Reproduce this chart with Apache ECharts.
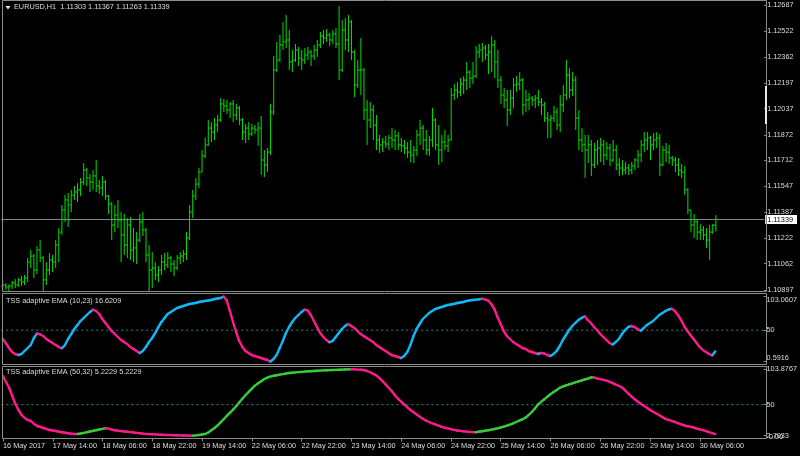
<!DOCTYPE html>
<html><head><meta charset="utf-8">
<script src="https://cdn.jsdelivr.net/npm/echarts/dist/echarts.min.js"></script>
<style>html,body{margin:0;padding:0;background:#000;}#c{width:800px;height:456px;}</style>
</head><body><div id="c"></div>
<script>
const barOpen = [1.10921,1.10927,1.10915,1.10921,1.10940,1.10927,1.10959,1.10946,1.10971,1.11071,1.11109,1.11021,1.11147,1.11097,1.10959,1.11021,1.11084,1.11071,1.11179,1.11260,1.11399,1.11462,1.11430,1.11493,1.11512,1.11525,1.11574,1.11650,1.11600,1.11574,1.11613,1.11550,1.11537,1.11574,1.11487,1.11437,1.11304,1.11367,1.11336,1.11242,1.11179,1.11304,1.11147,1.11160,1.11210,1.11323,1.11273,1.11116,1.11021,1.11034,1.10990,1.11021,1.11071,1.11053,1.11097,1.11059,1.11034,1.11097,1.11109,1.11122,1.11223,1.11386,1.11487,1.11562,1.11637,1.11739,1.11808,1.11914,1.11889,1.11933,1.11965,1.12066,1.12053,1.12028,1.12066,1.11996,1.12040,1.11965,1.11889,1.11914,1.11877,1.11914,1.11902,1.11914,1.11713,1.11682,1.11763,1.12015,1.12279,1.12342,1.12437,1.12456,1.12468,1.12330,1.12342,1.12405,1.12355,1.12342,1.12374,1.12392,1.12367,1.12405,1.12437,1.12493,1.12481,1.12500,1.12468,1.12506,1.12443,1.12279,1.12531,1.12468,1.12581,1.12392,1.12185,1.12279,1.12279,1.12028,1.11965,1.12028,1.11933,1.11839,1.11808,1.11826,1.11814,1.11852,1.11839,1.11865,1.11808,1.11802,1.11789,1.11763,1.11745,1.11776,1.11871,1.11914,1.11839,1.11776,1.11839,1.11965,1.11808,1.11776,1.11826,1.11802,1.11839,1.12122,1.12154,1.12141,1.12191,1.12216,1.12266,1.12229,1.12241,1.12392,1.12405,1.12418,1.12374,1.12392,1.12437,1.12330,1.12216,1.12122,1.12091,1.12028,1.12103,1.12185,1.12191,1.12216,1.12059,1.12091,1.12103,1.12091,1.12103,1.12078,1.12059,1.11977,1.11965,1.11977,1.12015,1.11933,1.12059,1.12122,1.12248,1.12154,1.12216,1.11977,1.11839,1.11808,1.11776,1.11808,1.11682,1.11776,1.11789,1.11808,1.11745,1.11789,1.11713,1.11776,1.11682,1.11663,1.11650,1.11663,1.11650,1.11676,1.11713,1.11745,1.11808,1.11839,1.11852,1.11808,1.11839,1.11852,1.11682,1.11776,1.11763,1.11726,1.11713,1.11682,1.11650,1.11637,1.11525,1.11399,1.11304,1.11323,1.11260,1.11273,1.11242,1.11210,1.11260,1.11303];
const barHigh = [1.10959,1.10940,1.10933,1.10952,1.10965,1.10971,1.10983,1.10990,1.11097,1.11147,1.11122,1.11172,1.11210,1.11109,1.11071,1.11128,1.11116,1.11210,1.11285,1.11430,1.11493,1.11506,1.11525,1.11550,1.11568,1.11600,1.11694,1.11663,1.11625,1.11650,1.11713,1.11587,1.11613,1.11587,1.11493,1.11449,1.11430,1.11462,1.11386,1.11374,1.11348,1.11354,1.11285,1.11260,1.11374,1.11386,1.11285,1.11179,1.11134,1.11071,1.11046,1.11116,1.11128,1.11134,1.11109,1.11084,1.11116,1.11134,1.11147,1.11260,1.11430,1.11525,1.11600,1.11663,1.11776,1.11852,1.11965,1.11952,1.11977,1.11996,1.12103,1.12097,1.12091,1.12078,1.12091,1.12066,1.12053,1.11977,1.11940,1.11952,1.11940,1.11933,1.11952,1.11990,1.11776,1.11789,1.12066,1.12367,1.12456,1.12500,1.12581,1.12625,1.12531,1.12405,1.12443,1.12424,1.12405,1.12418,1.12424,1.12405,1.12437,1.12468,1.12518,1.12531,1.12537,1.12512,1.12531,1.12543,1.12682,1.12594,1.12606,1.12625,1.12594,1.12405,1.12342,1.12481,1.12292,1.12091,1.12078,1.12059,1.11996,1.11871,1.11852,1.11865,1.11871,1.11914,1.11902,1.11889,1.11852,1.11839,1.11826,1.11839,1.11802,1.11902,1.11965,1.11933,1.11902,1.11865,1.12040,1.11977,1.11933,1.11871,1.11902,1.11871,1.12166,1.12191,1.12204,1.12229,1.12241,1.12330,1.12279,1.12330,1.12430,1.12443,1.12449,1.12437,1.12443,1.12493,1.12468,1.12405,1.12241,1.12166,1.12154,1.12154,1.12229,1.12241,1.12266,1.12229,1.12154,1.12135,1.12116,1.12122,1.12154,1.12103,1.12078,1.12015,1.11996,1.12053,1.12040,1.12122,1.12185,1.12342,1.12292,1.12266,1.12241,1.12028,1.11914,1.11871,1.11871,1.11839,1.11820,1.11839,1.11852,1.11839,1.11826,1.11814,1.11839,1.11808,1.11726,1.11713,1.11700,1.11688,1.11700,1.11726,1.11776,1.11839,1.11889,1.11889,1.11865,1.11883,1.11889,1.11877,1.11802,1.11820,1.11808,1.11739,1.11732,1.11726,1.11688,1.11676,1.11537,1.11399,1.11374,1.11336,1.11311,1.11298,1.11285,1.11304,1.11311,1.11367];
const barLow = [1.10889,1.10896,1.10889,1.10902,1.10908,1.10915,1.10921,1.10927,1.10946,1.11034,1.10971,1.10996,1.11071,1.10883,1.10927,1.10990,1.11008,1.11034,1.11071,1.11242,1.11323,1.11292,1.11386,1.11462,1.11449,1.11487,1.11556,1.11550,1.11512,1.11525,1.11512,1.11500,1.11487,1.11462,1.11374,1.11210,1.11260,1.11285,1.11071,1.11116,1.11097,1.11084,1.11071,1.11059,1.11197,1.11235,1.11071,1.10883,1.10908,1.10959,1.10946,1.10990,1.11021,1.11034,1.11008,1.10983,1.11021,1.11059,1.11071,1.11084,1.11210,1.11348,1.11462,1.11537,1.11637,1.11726,1.11802,1.11826,1.11839,1.11889,1.11952,1.12015,1.12003,1.11977,1.11952,1.11965,1.11933,1.11839,1.11820,1.11839,1.11865,1.11877,1.11802,1.11619,1.11606,1.11637,1.11745,1.11996,1.12266,1.12330,1.12405,1.12418,1.12279,1.12266,1.12330,1.12304,1.12279,1.12317,1.12342,1.12304,1.12342,1.12361,1.12418,1.12443,1.12456,1.12430,1.12443,1.12418,1.12216,1.12266,1.12405,1.12392,1.12342,1.12109,1.12166,1.12122,1.11965,1.11808,1.11914,1.11839,1.11776,1.11757,1.11763,1.11789,1.11776,1.11789,1.11776,1.11776,1.11763,1.11751,1.11726,1.11700,1.11694,1.11739,1.11808,1.11776,1.11745,1.11739,1.11795,1.11776,1.11682,1.11700,1.11776,1.11763,1.11839,1.12091,1.12103,1.12116,1.12128,1.12154,1.12166,1.12191,1.12229,1.12355,1.12330,1.12342,1.12254,1.12266,1.12229,1.12166,1.12066,1.12040,1.11927,1.11996,1.12040,1.12141,1.12154,1.11996,1.12015,1.12028,1.12053,1.12040,1.12053,1.11996,1.11952,1.11852,1.11852,1.11952,1.11902,1.11889,1.12015,1.12091,1.12103,1.12116,1.11902,1.11776,1.11763,1.11600,1.11694,1.11613,1.11663,1.11682,1.11700,1.11682,1.11713,1.11676,1.11700,1.11650,1.11613,1.11619,1.11625,1.11619,1.11625,1.11650,1.11663,1.11700,1.11763,1.11776,1.11713,1.11776,1.11789,1.11613,1.11676,1.11700,1.11688,1.11676,1.11637,1.11613,1.11600,1.11493,1.11374,1.11260,1.11223,1.11210,1.11210,1.11210,1.11160,1.11084,1.11248,1.11263];
const barClose = [1.10927,1.10915,1.10921,1.10940,1.10927,1.10959,1.10946,1.10971,1.11071,1.11109,1.11021,1.11147,1.11097,1.10959,1.11021,1.11084,1.11071,1.11179,1.11260,1.11399,1.11462,1.11430,1.11493,1.11512,1.11525,1.11574,1.11650,1.11600,1.11574,1.11613,1.11550,1.11537,1.11574,1.11487,1.11437,1.11304,1.11367,1.11336,1.11242,1.11179,1.11304,1.11147,1.11160,1.11210,1.11323,1.11273,1.11116,1.11021,1.11034,1.10990,1.11021,1.11071,1.11053,1.11097,1.11059,1.11034,1.11097,1.11109,1.11122,1.11223,1.11386,1.11487,1.11562,1.11637,1.11739,1.11808,1.11914,1.11889,1.11933,1.11965,1.12066,1.12053,1.12028,1.12066,1.11996,1.12040,1.11965,1.11889,1.11914,1.11877,1.11914,1.11902,1.11914,1.11713,1.11682,1.11763,1.12015,1.12279,1.12342,1.12437,1.12456,1.12468,1.12330,1.12342,1.12405,1.12355,1.12342,1.12374,1.12392,1.12367,1.12405,1.12437,1.12493,1.12481,1.12500,1.12468,1.12506,1.12443,1.12279,1.12531,1.12468,1.12581,1.12392,1.12185,1.12279,1.12279,1.12028,1.11965,1.12028,1.11933,1.11839,1.11808,1.11826,1.11814,1.11852,1.11839,1.11865,1.11808,1.11802,1.11789,1.11763,1.11745,1.11776,1.11871,1.11914,1.11839,1.11776,1.11839,1.11965,1.11808,1.11776,1.11826,1.11802,1.11839,1.12122,1.12154,1.12141,1.12191,1.12216,1.12266,1.12229,1.12241,1.12392,1.12405,1.12418,1.12374,1.12392,1.12437,1.12330,1.12216,1.12122,1.12091,1.12028,1.12103,1.12185,1.12191,1.12216,1.12059,1.12091,1.12103,1.12091,1.12103,1.12078,1.12059,1.11977,1.11965,1.11977,1.12015,1.11933,1.12059,1.12122,1.12248,1.12154,1.12216,1.11977,1.11839,1.11808,1.11776,1.11808,1.11682,1.11776,1.11789,1.11808,1.11745,1.11789,1.11713,1.11776,1.11682,1.11663,1.11650,1.11663,1.11650,1.11676,1.11713,1.11745,1.11808,1.11839,1.11852,1.11808,1.11839,1.11852,1.11682,1.11776,1.11763,1.11726,1.11713,1.11682,1.11650,1.11637,1.11525,1.11399,1.11304,1.11323,1.11260,1.11273,1.11242,1.11210,1.11260,1.11303,1.11339];
const tssFast = [36.06,29.75,21.87,15.56,12.41,10.83,12.41,17.14,21.87,26.60,37.63,44.90,43.20,40.79,36.06,32.90,29.75,26.60,23.45,21.50,26.60,36.06,43.94,51.82,58.13,64.43,69.16,73.89,78.62,82.20,80.20,75.47,67.59,61.28,54.97,48.67,43.94,39.21,34.48,31.33,28.18,23.45,20.29,17.14,13.99,17.14,23.45,31.33,37.63,45.52,54.97,62.86,69.16,75.47,78.62,81.77,84.93,86.50,88.08,89.66,91.23,92.00,92.81,94.39,95.20,95.96,96.70,97.54,99.12,99.90,100.69,103.0607,96.70,80.20,62.86,47.09,32.90,23.45,17.14,13.99,10.83,9.26,7.68,6.11,4.53,2.95,0.5916,4.53,10.83,21.87,32.90,45.52,54.97,62.86,69.16,73.89,78.62,82.30,81.00,73.89,64.43,54.97,45.52,39.21,34.48,31.00,32.90,39.21,45.52,51.82,56.55,59.70,56.55,53.40,48.67,43.94,40.79,37.63,34.48,31.33,26.60,23.45,20.29,17.14,13.99,10.83,9.26,7.68,6.11,9.26,15.56,26.60,40.79,51.82,59.70,67.59,72.32,77.05,80.20,83.35,84.93,86.50,88.08,89.66,90.40,91.23,92.81,93.60,94.39,95.96,96.70,97.54,97.90,98.60,99.40,98.60,96.70,91.23,83.35,70.74,59.70,48.67,40.79,36.06,31.33,28.18,25.02,21.87,20.29,17.14,15.56,13.99,12.41,13.99,13.20,10.83,9.26,12.41,17.14,25.02,34.48,42.36,50.25,56.55,61.28,66.01,69.16,71.80,66.01,61.28,54.97,50.25,43.94,39.21,34.48,29.75,27.40,31.33,36.06,43.94,50.25,54.97,56.55,54.97,51.82,49.10,53.40,58.13,61.28,64.43,69.16,73.89,77.05,80.20,82.60,83.80,80.20,73.89,66.01,56.55,48.67,42.36,36.06,29.75,23.45,18.72,15.56,12.41,10.40,16.6209];
const tssSlow = [93.67,84.52,75.38,63.19,51.00,41.86,34.24,29.67,26.62,25.10,20.53,17.48,15.96,14.43,12.91,11.39,10.62,9.86,8.79,7.88,7.12,6.36,5.75,5.35,5.22,6.05,6.97,8.03,9.10,10.17,11.08,12.15,13.06,13.98,13.50,11.99,11.08,10.32,9.71,9.10,8.64,8.19,7.58,6.97,6.51,5.90,5.44,5.14,4.83,4.68,4.38,4.22,3.92,3.77,3.61,3.46,3.31,3.16,3.01,2.92,2.82,2.7033,3.16,3.77,4.53,5.29,7.58,11.08,14.43,18.55,23.27,28.15,33.18,37.75,42.62,47.96,53.75,59.39,64.72,69.59,74.47,79.04,82.54,85.74,89.10,91.08,92.90,93.97,94.89,95.80,96.56,97.48,98.24,98.70,99.15,99.61,99.92,100.37,100.83,100.98,101.29,101.59,101.89,102.20,102.50,102.66,102.81,102.96,103.20,103.38,103.55,103.72,103.8767,103.72,103.42,103.11,102.81,101.29,99.46,97.02,94.73,90.62,85.74,80.87,75.69,70.51,64.41,58.93,54.51,50.24,45.98,41.86,38.51,35.01,31.65,28.45,25.56,23.58,21.60,19.77,17.94,16.26,14.89,13.83,12.61,11.54,10.63,10.02,9.41,8.95,8.49,8.19,7.88,8.65,9.56,10.32,11.08,12.00,12.91,13.98,15.20,16.42,17.94,19.62,21.60,23.58,25.71,27.84,30.28,34.24,38.82,44.15,50.24,54.36,58.17,62.13,65.94,69.14,72.49,75.69,77.67,79.34,80.87,82.54,84.07,85.44,86.81,88.34,89.71,91.38,91.53,90.01,88.94,87.88,86.66,84.83,82.70,80.56,78.43,76.15,71.73,67.00,62.74,58.62,54.81,51.46,48.26,45.21,41.86,39.27,36.53,33.79,31.04,28.15,26.78,25.25,23.58,21.75,20.07,18.40,17.18,16.26,15.20,13.50,12.40,11.20,9.80,8.00,6.50,5.2229];
const priceTicks = [1.10897,1.11062,1.11222,1.11387,1.11547,1.11712,1.11872,1.12037,1.12197,1.12362,1.12522,1.12687];
const fastTicks = [0.5916, 50, 103.0607];
const slowTicks = [2.7033, 50, 103.8767];
const levelValues = [50];
const timeTickLabels = ['16 May 2017','17 May 14:00','18 May 06:00','18 May 22:00','19 May 14:00','22 May 06:00','22 May 22:00','23 May 14:00','24 May 06:00','24 May 22:00','25 May 14:00','26 May 06:00','26 May 22:00','29 May 14:00','30 May 06:00'];

const N = barClose.length;
const SLOTS = 245;
const MONTHS = ['Jan','Feb','Mar','Apr','May','Jun','Jul','Aug','Sep','Oct','Nov','Dec'];
const barTimes = [];
for (let t = Date.UTC(2017,4,16,22); barTimes.length < N; t += 3600000) {
  const d = new Date(t), w = d.getUTCDay();
  if (w === 0 || w === 6) continue;
  barTimes.push(d.getUTCDate() + ' ' + MONTHS[d.getUTCMonth()] + ' ' + String(d.getUTCHours()).padStart(2,'0') + ':00');
}
const cats = [];
for (let i = 0; i < SLOTS; i++) cats.push(i < N ? barTimes[i] : '');
const lastClose = barClose[N - 1];

const FONT = 'Liberation Sans';
const FS = 7.3;
const TXT = '#dcdcdc';
const FRAME = '#8c8c8c';
const BAR = '#00e000';
const BLUE = '#10b8f4';
const PINK = '#ff1a8c';
const GREEN = '#38cc38';
const LEVEL = '#1e9090';
const L = 1.2, R = 33.2;

function renderOHLC(params, api) {
  const i = api.value(0);
  const pH = api.coord([i, api.value(2)]);
  const pL = api.coord([i, api.value(3)]);
  const yO = api.coord([i, api.value(1)])[1];
  const yC = api.coord([i, api.value(4)])[1];
  const x = pH[0];
  const st = {stroke: BAR, lineWidth: 1};
  return {type: 'group', children: [
    {type: 'line', shape: {x1: x, y1: pH[1], x2: x, y2: pL[1]}, style: st},
    {type: 'line', shape: {x1: x - 1.5, y1: yO, x2: x, y2: yO}, style: st},
    {type: 'line', shape: {x1: x, y1: yC, x2: x + 1.5, y2: yC}, style: st}
  ]};
}
function segRenderer(upColor, dnColor) {
  return function (params, api) {
    const i = api.value(0);
    const a = api.coord([i - 1, api.value(1)]);
    const b = api.coord([i, api.value(2)]);
    return {type: 'line', shape: {x1: a[0], y1: a[1], x2: b[0], y2: b[1]},
      style: {stroke: api.value(2) >= api.value(1) ? upColor : dnColor, lineWidth: 2.4, lineCap: 'round'}};
  };
}
// horizontal level drawn through the axis scale across the whole panel width
function hLineRenderer(color, dash) {
  return function (params, api) {
    const cs = params.coordSys;
    const y = api.coord([0, api.value(0)])[1];
    return {type: 'line', shape: {x1: cs.x, y1: y, x2: cs.x + cs.width, y2: y},
      style: {stroke: color, lineWidth: 1, lineDash: dash || null}};
  };
}
function segData(vals) { return vals.slice(1).map((v, k) => [k + 1, vals[k], v]); }
const fmtVal = v => String(v);
const labelShow = idx => idx % 16 === 0 && idx < N;

const hiddenX = gi => ({type: 'category', gridIndex: gi, data: cats, boundaryGap: true,
  axisLine: {show: false}, axisTick: {show: false}, axisLabel: {show: false}, splitLine: {show: false}});

const option = {
  backgroundColor: '#000',
  animation: false,
  grid: [
    {left: L, right: R, top: 1, height: 291},
    {left: L, right: R, top: 296.5, height: 65},
    {left: L, right: R, top: 369.3, height: 66.4}
  ],
  xAxis: [
    hiddenX(0), hiddenX(1),
    {type: 'category', gridIndex: 2, data: cats, boundaryGap: true, offset: 2.8,
      axisLine: {show: false},
      axisTick: {show: true, alignWithLabel: true, interval: labelShow, length: 3, lineStyle: {color: FRAME}},
      axisLabel: {show: true, interval: labelShow, align: 'left', margin: 4, color: TXT, fontSize: FS, fontFamily: FONT,
        formatter: (v, idx) => timeTickLabels[idx / 16] || ''},
      splitLine: {show: false}}
  ],
  yAxis: [
    {type: 'value', gridIndex: 0, position: 'right', min: 1.10883, max: 1.127134,
      splitLine: {show: false}, axisLine: {show: false},
      axisTick: {show: true, length: 3, customValues: priceTicks, lineStyle: {color: FRAME}},
      axisLabel: {customValues: priceTicks, formatter: v => v.toFixed(5), margin: 3, color: TXT, fontSize: FS, fontFamily: FONT}},
    {type: 'value', gridIndex: 1, position: 'right', min: 0.5916, max: 103.0607,
      splitLine: {show: false}, axisLine: {show: false},
      axisTick: {show: true, length: 3, customValues: fastTicks, lineStyle: {color: FRAME}},
      axisLabel: {customValues: fastTicks, formatter: fmtVal, margin: 3, color: TXT, fontSize: FS, fontFamily: FONT,
        verticalAlignMaxLabel: 'top', verticalAlignMinLabel: 'bottom'}},
    {type: 'value', gridIndex: 2, position: 'right', min: 2.7033, max: 103.8767,
      splitLine: {show: false}, axisLine: {show: false},
      axisTick: {show: true, length: 3, customValues: slowTicks, lineStyle: {color: FRAME}},
      axisLabel: {customValues: slowTicks, formatter: fmtVal, margin: 3, color: TXT, fontSize: FS, fontFamily: FONT}},
    // overlay axis on the price panel that only carries the current-price box
    {type: 'value', gridIndex: 0, position: 'right', min: 1.10883, max: 1.127134,
      splitLine: {show: false}, axisLine: {show: false}, axisTick: {show: false},
      axisLabel: {customValues: [lastClose], formatter: v => v.toFixed(5), margin: 1, color: '#000',
        backgroundColor: '#ffffff', padding: [1, 4, 1, 2], fontSize: FS, fontFamily: FONT}}
  ],
  series: [
    {type: 'custom', name: 'price line', xAxisIndex: 0, yAxisIndex: 0, silent: true,
      data: [[lastClose]], encode: {y: 0}, renderItem: hLineRenderer('#7b8694'), z: 2},
    {type: 'custom', name: 'EURUSD,H1', xAxisIndex: 0, yAxisIndex: 0,
      data: barClose.map((c, i) => [i, barOpen[i], barHigh[i], barLow[i], c]),
      encode: {x: 0, y: [1, 2, 3, 4]}, renderItem: renderOHLC, z: 3},
    {type: 'custom', name: 'level 50 fast', xAxisIndex: 1, yAxisIndex: 1, silent: true,
      data: levelValues.map(v => [v]), encode: {y: 0}, renderItem: hLineRenderer(LEVEL, [2, 3]), z: 2},
    {type: 'custom', name: 'TSS adaptive EMA (10,23)', xAxisIndex: 1, yAxisIndex: 1,
      data: segData(tssFast), encode: {x: 0, y: [1, 2]}, renderItem: segRenderer(BLUE, PINK), z: 3},
    {type: 'custom', name: 'level 50 slow', xAxisIndex: 2, yAxisIndex: 2, silent: true,
      data: levelValues.map(v => [v]), encode: {y: 0}, renderItem: hLineRenderer(LEVEL, [2, 3]), z: 2},
    {type: 'custom', name: 'TSS adaptive EMA (50,32)', xAxisIndex: 2, yAxisIndex: 2,
      data: segData(tssSlow), encode: {x: 0, y: [1, 2]}, renderItem: segRenderer(GREEN, PINK), z: 3}
  ],
  graphic: [
    {type: 'rect', silent: true, z: 10, shape: {x: 2.5, y: 0.5, width: 764, height: 291}, style: {fill: 'none', stroke: FRAME, lineWidth: 1}},
    {type: 'rect', silent: true, z: 10, shape: {x: 2.5, y: 293.5, width: 764, height: 71}, style: {fill: 'none', stroke: FRAME, lineWidth: 1}},
    {type: 'rect', silent: true, z: 10, shape: {x: 2.5, y: 366.5, width: 764, height: 72}, style: {fill: 'none', stroke: FRAME, lineWidth: 1}},
    {type: 'rect', silent: true, z: 11, shape: {x: 765, y: 86, width: 2, height: 38}, style: {fill: '#e6e6e6'}},
    {type: 'polygon', silent: true, z: 11, shape: {points: [[5.5, 6], [10.5, 6], [8, 9.5]]}, style: {fill: '#e6e6e6'}},
    {type: 'text', silent: true, z: 11, style: {x: 14, y: 3.5, text: 'EURUSD,H1  ' + [barOpen[N-1], barHigh[N-1], barLow[N-1], barClose[N-1]].map(v => v.toFixed(5)).join(' '),
      fill: TXT, fontSize: FS, fontFamily: FONT}},
    {type: 'text', silent: true, z: 11, style: {x: 6, y: 297, text: 'TSS adaptive EMA (10,23) ' + tssFast[N - 1],
      fill: TXT, fontSize: FS, fontFamily: FONT}},
    {type: 'text', silent: true, z: 11, style: {x: 6, y: 368, text: 'TSS adaptive EMA (50,32) ' + tssSlow[N - 1] + ' ' + tssSlow[N - 1],
      fill: TXT, fontSize: FS, fontFamily: FONT}},
    {type: 'text', silent: true, z: 11, style: {x: 769, y: 433, text: '0.00', fill: TXT, fontSize: FS, fontFamily: FONT}}
  ]
};
const chart = echarts.init(document.getElementById('c'), null, {width: 800, height: 456});
chart.setOption(option);
</script>
</body></html>
